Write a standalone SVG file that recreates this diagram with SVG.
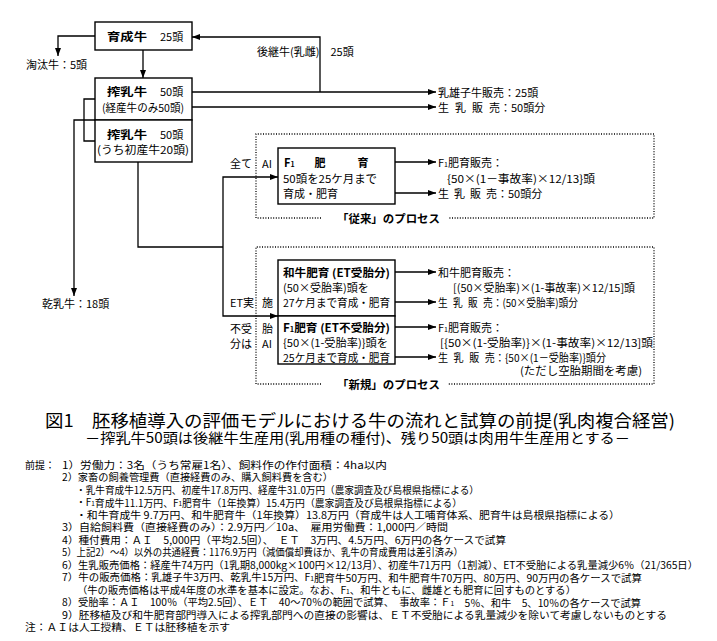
<svg xmlns="http://www.w3.org/2000/svg" width="717" height="641" viewBox="0 0 717 641">
<style>
.t{font-family:"Noto Sans CJK JP","Noto Sans CJK SC",sans-serif;font-size:11px;fill:#000;dominant-baseline:central}
.b{font-weight:bold}
.n{font-family:"Noto Sans CJK JP","Noto Sans CJK SC",sans-serif;font-size:10px;fill:#000;dominant-baseline:central}
.box{fill:#fff;stroke:#000;stroke-width:1.4}
.ln{fill:none;stroke:#000;stroke-width:1.3}
.arr{fill:none;stroke:#000;stroke-width:1.3;marker-end:url(#ah)}
.dot{fill:none;stroke:#000;stroke-width:1.3;stroke-dasharray:1 1.6}
</style>
<defs>
<marker id="ah" markerWidth="8" markerHeight="6" refX="8" refY="3" orient="auto" markerUnits="userSpaceOnUse"><path d="M0,0 L8,3 L0,6 z" fill="#000"/></marker>
</defs>
<rect width="717" height="641" fill="#fff"/>

<g id="connectors">
<path class="arr" d="M95,36 H58 V56"/>
<path class="arr" d="M143,50 V78"/>
<path class="arr" d="M320,92 V37 H192"/>
<path class="arr" d="M192,92 H436"/>
<path class="arr" d="M192,107 H436"/>
<path class="ln" d="M95,99 H84 V141 H95"/>
<path class="arr" d="M95,120 H74 V296"/>
<path class="ln" d="M138,162 V247 H223"/>
<path class="arr" d="M223,247 V177 H278"/>
<path class="arr" d="M223,247 V316 H278"/>
<path class="arr" d="M395,162 H436"/>
<path class="arr" d="M395,193 H436"/>
<path class="arr" d="M395,272 H436"/>
<path class="arr" d="M395,302 H436"/>
<path class="arr" d="M395,327 H436"/>
<path class="arr" d="M395,357 H436"/>
</g>

<g id="process-old">
<path class="dot" d="M321,218 H256 V134 H654 V218 H448"/>
<text class="t b" x="337" y="218" textLength="103" lengthAdjust="spacingAndGlyphs">「従来」のプロセス</text>
</g>
<g id="process-new">
<path class="dot" d="M321,384 H256 V247 H654 V384 H448"/>
<text class="t b" x="337" y="384" textLength="103" lengthAdjust="spacingAndGlyphs">「新規」のプロセス</text>
</g>

<g id="ikusei">
<rect class="box" x="95" y="22" width="97" height="28"/>
<text class="t b" x="107" y="36" textLength="40" lengthAdjust="spacingAndGlyphs">育成牛</text>
<text class="t" x="160" y="36">25頭</text>
</g>
<text class="t" x="26" y="64">淘汰牛：5頭</text>
<text class="t" x="257" y="51">後継牛(乳雌)　25頭</text>

<g id="sakunyu1">
<rect class="box" x="95" y="78" width="97" height="42"/>
<text class="t b" x="107" y="91" textLength="40" lengthAdjust="spacingAndGlyphs">搾乳牛</text>
<text class="t" x="160" y="91">50頭</text>
<text class="t" x="102" y="107" textLength="82" lengthAdjust="spacingAndGlyphs">(経産牛のみ50頭)</text>
</g>
<g id="sakunyu2">
<rect class="box" x="95" y="120" width="97" height="42"/>
<text class="t b" x="107" y="134" textLength="40" lengthAdjust="spacingAndGlyphs">搾乳牛</text>
<text class="t" x="160" y="134">50頭</text>
<text class="t" x="97" y="149" textLength="92" lengthAdjust="spacingAndGlyphs">(うち初産牛20頭)</text>
</g>
<text class="t" x="438" y="92">乳雄子牛販売：25頭</text>
<text class="t" x="438" y="107">生<tspan dx="6">乳</tspan><tspan dx="6">販</tspan><tspan dx="6">売</tspan>：50頭分</text>
<text class="t" x="42" y="303">乾乳牛：18頭</text>

<text class="t" x="230" y="163">全て</text>
<text class="t" x="262" y="163">AI</text>

<g id="f1-old">
<rect class="box" x="278" y="148" width="117" height="56"/>
<text class="t b" x="284" y="162">F<tspan font-size="7" dy="1.5">1</tspan><tspan dx="20" dy="-1.5">肥</tspan><tspan dx="32">育</tspan></text>
<text class="t" x="283" y="178" textLength="94" lengthAdjust="spacingAndGlyphs">50頭を25ケ月まで</text>
<text class="t" x="283" y="193">育成・肥育</text>
</g>
<text class="t" x="438" y="162">F<tspan font-size="7" dy="1.5">1</tspan><tspan dy="-1.5">肥育販売：</tspan></text>
<text class="t" x="447" y="178" textLength="148" lengthAdjust="spacingAndGlyphs">{50×(1－事故率)×12/13}頭</text>
<text class="t" x="438" y="193">生<tspan dx="5">乳</tspan><tspan dx="5">販</tspan><tspan dx="5">売</tspan>：50頭分</text>

<text class="t" x="230" y="302">ET実</text>
<text class="t" x="262" y="302">施</text>
<text class="t" x="230" y="328">不受</text>
<text class="t" x="262" y="328">胎</text>
<text class="t" x="230" y="343">分は</text>
<text class="t" x="262" y="343">AI</text>

<g id="wagyu">
<rect class="box" x="278" y="260" width="117" height="56"/>
<text class="t b" x="283" y="272" textLength="107" lengthAdjust="spacingAndGlyphs">和牛肥育 (ET受胎分)</text>
<text class="t" x="283" y="287">(50×受胎率)頭を</text>
<text class="t" x="283" y="302" textLength="107" lengthAdjust="spacingAndGlyphs">27ケ月まで育成・肥育</text>
</g>
<g id="f1-new">
<rect class="box" x="278" y="316" width="117" height="48"/>
<text class="t b" x="283" y="327" textLength="107" lengthAdjust="spacingAndGlyphs">F<tspan font-size="7" dy="1.5">1</tspan><tspan dy="-1.5">肥育 (ET不受胎分)</tspan></text>
<text class="t" x="283" y="342" textLength="105" lengthAdjust="spacingAndGlyphs">{50×(1-受胎率)}頭を</text>
<text class="t" x="283" y="357" textLength="107" lengthAdjust="spacingAndGlyphs">25ケ月まで育成・肥育</text>
</g>
<text class="t" x="438" y="272">和牛肥育販売：</text>
<text class="t" x="453" y="287" textLength="182" lengthAdjust="spacingAndGlyphs">[(50×受胎率)×(1-事故率)×12/15]頭</text>
<text class="t" x="438" y="302" textLength="140" lengthAdjust="spacingAndGlyphs">生<tspan dx="6">乳</tspan><tspan dx="6">販</tspan><tspan dx="6">売</tspan>：(50×受胎率)頭分</text>
<text class="t" x="438" y="327">F<tspan font-size="7" dy="1.5">1</tspan><tspan dy="-1.5">肥育販売：</tspan></text>
<text class="t" x="440" y="342" textLength="213" lengthAdjust="spacingAndGlyphs">[{50×(1-受胎率)}×(1-事故率)×12/13]頭</text>
<text class="t" x="438" y="357" textLength="168" lengthAdjust="spacingAndGlyphs">生<tspan dx="6">乳</tspan><tspan dx="6">販</tspan><tspan dx="6">売</tspan>：{50×(1－受胎率)}頭分</text>
<text class="t" x="520" y="370" textLength="122" lengthAdjust="spacingAndGlyphs">(ただし空胎期間を考慮)</text>

<text class="t" x="45" y="419" style="font-size:17.5px" textLength="630" lengthAdjust="spacingAndGlyphs">図1　胚移植導入の評価モデルにおける牛の流れと試算の前提(乳肉複合経営)</text>
<text class="t" x="85" y="437" style="font-size:14px" textLength="545" lengthAdjust="spacingAndGlyphs">－搾乳牛50頭は後継牛生産用(乳用種の種付)、残り50頭は肉用牛生産用とする－</text>

<g id="notes">
<text class="n" x="25" y="464">前提：</text>
<text class="n" x="62" y="464" textLength="325" lengthAdjust="spacingAndGlyphs">1）労働力：3名（うち常雇1名）、飼料作の作付面積：4ha以内</text>
<text class="n" x="62" y="476.5" textLength="271" lengthAdjust="spacingAndGlyphs">2）家畜の飼養管理費（直接経費のみ、購入飼料費を含む）</text>
<text class="n" x="76" y="489" textLength="403" lengthAdjust="spacingAndGlyphs">・乳牛育成牛12.5万円、初産牛17.8万円、経産牛31.0万円（農家調査及び島根県指標による）</text>
<text class="n" x="76" y="501.5" textLength="386" lengthAdjust="spacingAndGlyphs">・F<tspan font-size="6.5" dy="1.5">1</tspan><tspan dy="-1.5">育成牛11.1万円、F</tspan><tspan font-size="6.5" dy="1.5">1</tspan><tspan dy="-1.5">肥育牛（1年換算）15.4万円（農家調査及び島根県指標による）</tspan></text>
<text class="n" x="76" y="514" textLength="544" lengthAdjust="spacingAndGlyphs">・和牛育成牛 9.7万円、和牛肥育牛（1年換算）13.8万円（育成牛は人工哺育体系、肥育牛は島根県指標による）</text>
<text class="n" x="62" y="526.5" textLength="386" lengthAdjust="spacingAndGlyphs">3）自給飼料費（直接経費のみ）：2.9万円／10a、　雇用労働費：1,000円／時間</text>
<text class="n" x="62" y="539" textLength="444" lengthAdjust="spacingAndGlyphs">4）種付費用：ＡＩ　5,000円（平均2.5回）、　ＥＴ　3万円、4.5万円、6万円の各ケースで試算</text>
<text class="n" x="62" y="551.5" textLength="401" lengthAdjust="spacingAndGlyphs">5）上記2）～4）以外の共通経費：1176.9万円（減価償却費ほか、乳牛の育成費用は差引済み）</text>
<text class="n" x="62" y="564" textLength="636" lengthAdjust="spacingAndGlyphs">6）生乳販売価格：経産牛74万円（1乳期8,000kg×100円×12/13月）、初産牛71万円（1割減）、ET不受胎による乳量減少6％（21/365日）</text>
<text class="n" x="62" y="576.5" textLength="580" lengthAdjust="spacingAndGlyphs">7）牛の販売価格：乳雄子牛3万円、乾乳牛15万円、F<tspan font-size="6.5" dy="1.5">1</tspan><tspan dy="-1.5">肥育牛50万円、和牛肥育牛70万円、80万円、90万円の各ケースで試算</tspan></text>
<text class="n" x="77" y="589" textLength="499" lengthAdjust="spacingAndGlyphs">（牛の販売価格は平成4年度の水準を基本に設定。なお、F<tspan font-size="6.5" dy="1.5">1</tspan><tspan dy="-1.5">、和牛ともに、雌雄とも肥育に回すものとする）</tspan></text>
<text class="n" x="62" y="601.5" textLength="579" lengthAdjust="spacingAndGlyphs">8）受胎率：ＡＩ　100％（平均2.5回）、ＥＴ　40～70％の範囲で試算、　事故率：Ｆ<tspan font-size="6.5" dy="1.5">1</tspan><tspan dy="-1.5">　5％、和牛　5、10％の各ケースで試算</tspan></text>
<text class="n" x="62" y="614" textLength="605" lengthAdjust="spacingAndGlyphs">9）胚移植及び和牛肥育部門導入による搾乳部門への直接の影響は、ＥＴ不受胎による乳量減少を除いて考慮しないものとする</text>
<text class="n" x="25" y="626.5" textLength="205" lengthAdjust="spacingAndGlyphs">注：ＡＩは人工授精、ＥＴは胚移植を示す</text>
</g>
</svg>
